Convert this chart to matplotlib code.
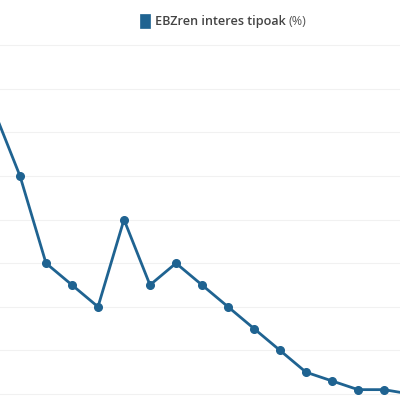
import matplotlib
matplotlib.use("Agg")
import matplotlib.pyplot as plt
from matplotlib.patches import Patch

# ECB interest rate (%) at successive points; first and last fall partly outside the crop
periods = list(range(-1, 16))
rates = [3.25, 2.5, 1.5, 1.25, 1.0, 2.0, 1.25, 1.5, 1.25, 1.0, 0.75, 0.5, 0.25, 0.15, 0.05, 0.05, 0.0]
series_name = "EBZren interes tipoak"
unit = "(%)"
y_ticks = [0, 0.5, 1.0, 1.5, 2.0, 2.5, 3.0, 3.5, 4.0]

line_color = "#1f6391"

fig = plt.figure(figsize=(4, 4), dpi=100)
ax = fig.add_axes([0, 0, 1, 1])

ax.plot(periods, rates, color=line_color, linewidth=2.0, marker="o",
        markersize=5.5, clip_on=True)

# the visible window is a crop of a larger chart
ax.set_xlim(-20 / 26, 380 / 26)
ax.set_ylim(-6 / 87.2, 394 / 87.2)

ax.set_yticks(y_ticks)
ax.set_xticks([])
ax.tick_params(left=False, labelleft=False, bottom=False, labelbottom=False)
ax.grid(axis="y", color="#f1f1f1", linewidth=0.8)
ax.set_axisbelow(True)
for s in ax.spines.values():
    s.set_visible(False)

# legend at the top, small upright swatch
handle = Patch(facecolor=line_color, edgecolor=line_color, linewidth=0.5)
leg = fig.legend([handle], [series_name], loc="upper left",
                 bbox_to_anchor=(135 / 400, 1 - 9 / 400), frameon=False,
                 handlelength=0.75, handleheight=1.3, handletextpad=0.4,
                 borderaxespad=0,
                 prop={"family": "Open Sans", "weight": "semibold", "size": 9.1})
for t in leg.get_texts():
    t.set_color("#444444")

fig.canvas.draw()
bb = leg.get_texts()[0].get_window_extent()
fig.text((bb.x1 + 3) / 400, (bb.y0 + bb.y1) / 2 / 400, unit, color="#555555",
         fontfamily="Open Sans", fontsize=9.1, va="center", ha="left")

fig.savefig("out.png", dpi=100)
